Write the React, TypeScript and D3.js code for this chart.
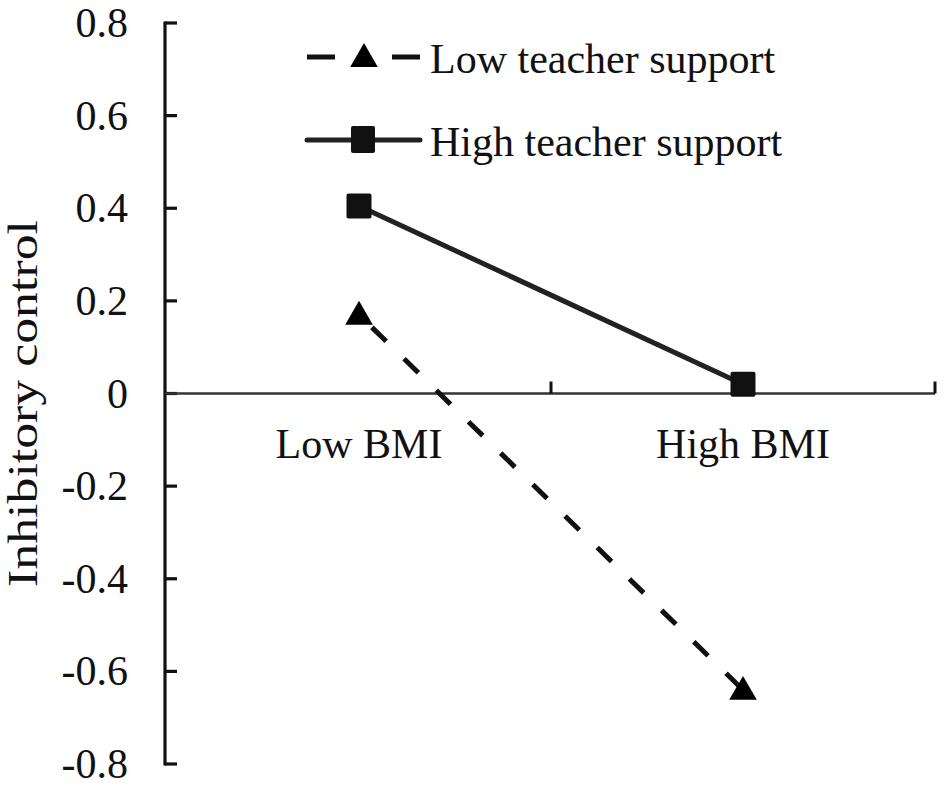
import React, { useRef, useEffect } from 'react';
import * as d3 from 'd3';

const categories = ['Low BMI', 'High BMI'];
const lowSupport = [0.17, -0.64];
const highSupport = [0.405, 0.02];
const yTicks = [0.8, 0.6, 0.4, 0.2, 0, -0.2, -0.4, -0.6, -0.8];
const seriesNames = ['Low teacher support', 'High teacher support'];

const W = 945;
const H = 788;
const FONT = '"Liberation Serif", "Times New Roman", serif';

const App: React.FC = () => {
  const svgRef = useRef<SVGSVGElement>(null);

  useEffect(() => {
    if (!svgRef.current) return;
    const svg = d3.select(svgRef.current);
    svg.selectAll('*').remove();

    svg.append('rect').attr('width', W).attr('height', H).attr('fill', '#fff');

    const axisX = 165;
    const x = d3.scaleBand().domain(categories).range([167, 935]);
    const y = d3.scaleLinear().domain([-0.8, 0.8]).range([764, 23]);
    const cx = (c: string) => (x(c) || 0) + x.bandwidth() / 2;
    // hyphen-minus like the original, not unicode minus
    const fmt = (d: number) => (d === 0 ? '0' : d.toFixed(1));

    // y axis
    svg.append('line')
      .attr('x1', axisX).attr('x2', axisX)
      .attr('y1', y(0.8) - 1.5).attr('y2', y(-0.8) + 1.5)
      .attr('stroke', '#111').attr('stroke-width', 3.2);

    svg.selectAll('.ytick')
      .data(yTicks)
      .enter().append('line')
      .attr('x1', axisX).attr('x2', axisX + 12)
      .attr('y1', d => y(d)).attr('y2', d => y(d))
      .attr('stroke', '#111').attr('stroke-width', 3.2);

    svg.selectAll('.ylabel')
      .data(yTicks)
      .enter().append('text')
      .attr('x', 128)
      .attr('y', d => y(d) + 14)
      .attr('text-anchor', 'end')
      .attr('font-family', FONT)
      .attr('font-size', 42)
      .attr('fill', '#111')
      .text(d => fmt(d));

    // x axis at 0
    svg.append('line')
      .attr('x1', axisX).attr('x2', 935)
      .attr('y1', y(0)).attr('y2', y(0))
      .attr('stroke', '#333').attr('stroke-width', 2.5);

    const xTickPos = [x(categories[1]) || 0, 935];
    svg.selectAll('.xtick')
      .data(xTickPos)
      .enter().append('line')
      .attr('x1', d => d).attr('x2', d => d)
      .attr('y1', y(0)).attr('y2', y(0) - 12)
      .attr('stroke', '#111').attr('stroke-width', 3);

    svg.selectAll('.xlabel')
      .data(categories)
      .enter().append('text')
      .attr('x', d => cx(d))
      .attr('y', 458)
      .attr('text-anchor', 'middle')
      .attr('font-family', FONT)
      .attr('font-size', 42)
      .attr('fill', '#111')
      .text(d => d);

    // y title
    svg.append('text')
      .attr('transform', `translate(37,${(220 + 587) / 2}) rotate(-90)`)
      .attr('text-anchor', 'middle')
      .attr('font-family', FONT)
      .attr('font-size', 42)
      .attr('fill', '#111')
      .attr('textLength', 367)
      .attr('lengthAdjust', 'spacingAndGlyphs')
      .text('Inhibitory control');

    const line = d3.line<[number, number]>().x(d => d[0]).y(d => d[1]);
    const lowPts: [number, number][] = categories.map((c, i) => [cx(c), y(lowSupport[i])]);
    const highPts: [number, number][] = categories.map((c, i) => [cx(c), y(highSupport[i])]);

    const tri = d3.symbol().type(d3.symbolTriangle).size(330);

    // low support (dashed + triangles)
    svg.append('path')
      .attr('d', line(lowPts))
      .attr('fill', 'none')
      .attr('stroke', '#111')
      .attr('stroke-width', 5)
      .attr('stroke-dasharray', '20 25')
      .attr('stroke-dashoffset', -18);

    svg.selectAll('.tri')
      .data(lowPts)
      .enter().append('path')
      .attr('d', tri)
      .attr('transform', d => `translate(${d[0]},${d[1] + 2})`)
      .attr('fill', '#000');

    // high support (solid + squares)
    svg.append('path')
      .attr('d', line(highPts))
      .attr('fill', 'none')
      .attr('stroke', '#222')
      .attr('stroke-width', 5);

    svg.selectAll('.sq')
      .data(highPts)
      .enter().append('rect')
      .attr('x', d => d[0] - 12.5).attr('y', d => d[1] - 12.5)
      .attr('width', 25).attr('height', 25)
      .attr('rx', 2)
      .attr('fill', '#111');

    // legend
    const lg = svg.append('g');
    lg.append('line')
      .attr('x1', 307).attr('x2', 420).attr('y1', 57).attr('y2', 57)
      .attr('stroke', '#111').attr('stroke-width', 5)
      .attr('stroke-dasharray', '28 57 28');
    lg.append('path')
      .attr('d', tri)
      .attr('transform', 'translate(364,59)')
      .attr('fill', '#000');
    lg.append('line')
      .attr('x1', 307).attr('x2', 420).attr('y1', 140).attr('y2', 140)
      .attr('stroke', '#222').attr('stroke-width', 5)
      .attr('stroke-linecap', 'round');
    lg.append('rect')
      .attr('x', 351).attr('y', 126).attr('width', 24).attr('height', 27)
      .attr('rx', 2).attr('fill', '#111');

    lg.selectAll('.lt')
      .data(seriesNames)
      .enter().append('text')
      .attr('x', 430)
      .attr('y', (_, i) => (i === 0 ? 73 : 156))
      .attr('font-family', FONT)
      .attr('font-size', 42)
      .attr('fill', '#111')
      .text(d => d);
  }, []);

  return (
    <svg
      ref={svgRef}
      width={W}
      height={H}
      style={{ position: 'absolute', left: 0, top: 0 }}
    />
  );
};

export default App;
